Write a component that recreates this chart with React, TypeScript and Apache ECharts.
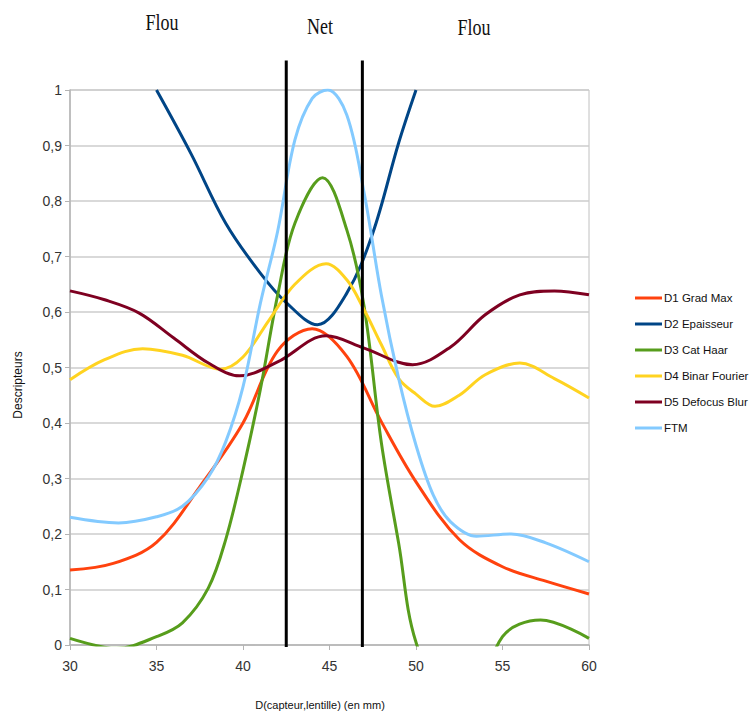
import React, { useEffect, useRef } from "react";
import * as echarts from "echarts";

const xTicks = [30, 35, 40, 45, 50, 55, 60];
const seriesNames = ["D1 Grad Max", "D2 Epaisseur", "D3 Cat Haar", "D4 Binar Fourier", "D5 Defocus Blur", "FTM"];
const seriesColors = ["#FF420E", "#004586", "#579D1C", "#FFD320", "#7E0021", "#83CAFF"];

// Each series: distance (mm) and descriptor value
const d1X = [30, 32.5, 35, 37.5, 40, 42, 44, 46, 48, 50, 52.5, 55, 57.5, 60];
const d1Y = [0.135, 0.147, 0.185, 0.285, 0.4, 0.53, 0.57, 0.52, 0.402, 0.294, 0.19, 0.141, 0.115, 0.092];

const d2X = [35, 37, 39, 41, 42.5, 44.3, 46, 47.5, 49, 50];
const d2Y = [1.0, 0.885, 0.76, 0.67, 0.617, 0.577, 0.634, 0.742, 0.905, 1.0];

const d3X = [30, 32.7, 35, 36.5, 38, 39, 40, 41, 42, 43, 44.6, 46, 47, 48, 49, 50, 52.5, 55, 57.2, 60];
const d3Y = [0.012, -0.006, 0.015, 0.04, 0.103, 0.19, 0.315, 0.46, 0.63, 0.76, 0.842, 0.748, 0.61, 0.364, 0.183, 0.005, -0.16, 0.015, 0.045, 0.012];

const d4X = [30, 32, 34.2, 36.5, 38.7, 40, 41.5, 43, 44.8, 46, 47, 48, 49, 50, 51.1, 52.5, 54, 56, 58, 60];
const d4Y = [0.478, 0.514, 0.534, 0.522, 0.497, 0.519, 0.585, 0.65, 0.687, 0.658, 0.604, 0.541, 0.48, 0.452, 0.43, 0.45, 0.487, 0.508, 0.48, 0.445];

const d5X = [30, 32, 34, 36, 38, 39.8, 42, 44.8, 47, 49.8, 52, 54, 56, 58, 60];
const d5Y = [0.638, 0.622, 0.598, 0.553, 0.508, 0.485, 0.51, 0.557, 0.535, 0.505, 0.537, 0.595, 0.631, 0.638, 0.631];

const ftmX = [30, 32.8, 35, 36.5, 38, 39, 40, 41, 42, 43, 44, 44.9, 46, 47, 48, 49, 50, 51, 52, 53.5, 55.5, 57.5, 60];
const ftmY = [0.23, 0.22, 0.231, 0.25, 0.303, 0.366, 0.465, 0.615, 0.745, 0.91, 0.985, 1.0, 0.955, 0.815, 0.63, 0.48, 0.36, 0.27, 0.222, 0.196, 0.2, 0.184, 0.15];

const seriesX = [d1X, d2X, d3X, d4X, d5X, ftmX];
const seriesY = [d1Y, d2Y, d3Y, d4Y, d5Y, ftmY];

const zoneLines = [42.5, 46.9];
const zoneLineTop = 1.053;
const zoneLabels = [
  { text: "Flou", x: 162, y: 22 },
  { text: "Net", x: 320, y: 26 },
  { text: "Flou", x: 474, y: 27 },
];

export default function App() {
  const ref = useRef<HTMLDivElement>(null);
  useEffect(() => {
    if (!ref.current) return;
    const chart = echarts.init(ref.current, null, { renderer: "svg" });
    const fmt = (v: number) => String(+v.toFixed(1)).replace(".", ",");
    const labelFont = "'Liberation Sans', Arial, sans-serif";
    chart.setOption({
      animation: false,
      backgroundColor: "#ffffff",
      grid: { left: 70, right: 164, top: 90, bottom: 73, show: true, borderColor: "#c0c0c0", borderWidth: 1 },
      xAxis: {
        type: "value",
        min: 30,
        max: 60,
        interval: 5,
        axisLine: { show: true, lineStyle: { color: "#b4b4b4", width: 1.5 } },
        axisTick: { show: true, length: 5, lineStyle: { color: "#b4b4b4" } },
        splitLine: { show: false },
        axisLabel: {
          color: "#333",
          fontFamily: labelFont,
          fontSize: 14,
          margin: 14,
          formatter: (v: number) => (xTicks.includes(v) ? String(v) : ""),
        },
      },
      yAxis: {
        type: "value",
        min: 0,
        max: 1,
        interval: 0.1,
        axisLine: { show: true, lineStyle: { color: "#b4b4b4", width: 1.5 } },
        axisTick: { show: true, length: 5, lineStyle: { color: "#b4b4b4" } },
        splitLine: { show: true, lineStyle: { color: "#cccccc", width: 1.5 } },
        axisLabel: {
          color: "#333",
          fontFamily: labelFont,
          fontSize: 14,
          margin: 8,
          formatter: fmt,
        },
      },
      legend: {
        orient: "vertical",
        left: 630,
        top: 286,
        icon: "rect",
        itemWidth: 27,
        itemHeight: 3,
        itemGap: 12,
        textStyle: {
          color: "#111",
          fontFamily: labelFont,
          fontSize: 11.5,
          lineHeight: 14,
          padding: [0, 0, 0, -3],
        },
        data: seriesNames,
      },
      series: seriesY.map((ys, i) => ({
        name: seriesNames[i],
        type: "line",
        data: ys.map((y, j) => [seriesX[i][j], y]),
        smooth: 0.35,
        symbol: "none",
        showSymbol: false,
        clip: true,
        color: seriesColors[i],
        itemStyle: { color: seriesColors[i] },
        lineStyle: { color: seriesColors[i], width: 3 },
        z: 2 + i,
      })),
    });

    const graphics: any[] = [];
    zoneLines.forEach((xv) => {
      const top = chart.convertToPixel({ xAxisIndex: 0, yAxisIndex: 0 }, [xv, zoneLineTop]) as number[];
      const bot = chart.convertToPixel({ xAxisIndex: 0, yAxisIndex: 0 }, [xv, 0]) as number[];
      graphics.push({
        type: "line",
        shape: { x1: top[0], y1: top[1], x2: bot[0], y2: bot[1] + 2 },
        style: { stroke: "#000", lineWidth: 3 },
        z: 100,
      });
    });
    zoneLabels.forEach((l) => {
      graphics.push({
        type: "text",
        x: l.x,
        y: l.y,
        scaleX: 0.75,
        style: {
          text: l.text,
          fill: "#111",
          font: "24px 'Liberation Serif', serif",
          align: "center",
          verticalAlign: "middle",
        },
        z: 100,
      });
    });
    graphics.push({
      type: "text",
      x: 18,
      y: 385,
      rotation: Math.PI / 2,
      style: {
        text: "Descripteurs",
        fill: "#111",
        font: "12px 'Liberation Sans', sans-serif",
        align: "center",
        verticalAlign: "middle",
      },
    });
    graphics.push({
      type: "text",
      x: 320,
      y: 705,
      style: {
        text: "D(capteur,lentille) (en mm)",
        fill: "#111",
        font: "11px 'Liberation Sans', sans-serif",
        align: "center",
        verticalAlign: "middle",
      },
    });
    chart.setOption({ graphic: graphics });

    return () => chart.dispose();
  }, []);
  return (
    <div
      ref={ref}
      style={{ position: "fixed", left: 0, top: 0, width: 753, height: 718, background: "#fff" }}
    />
  );
}
